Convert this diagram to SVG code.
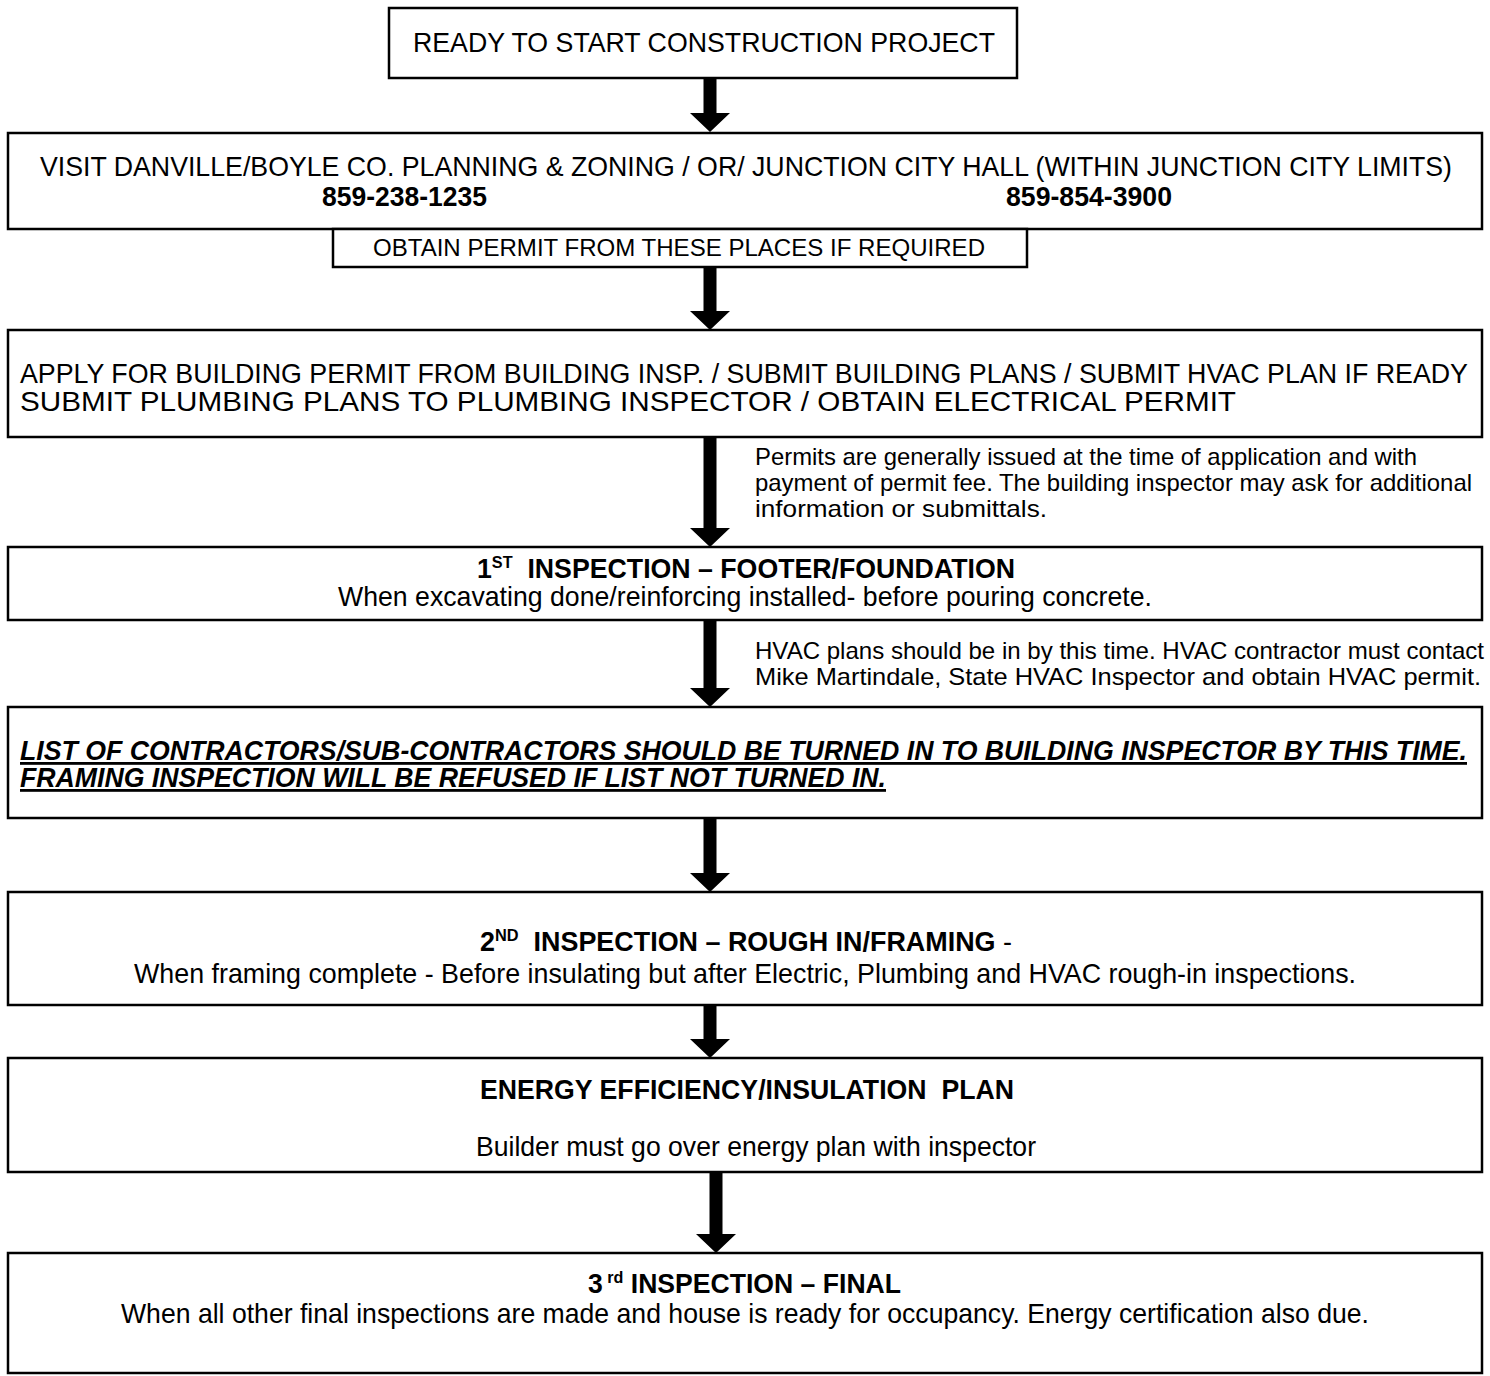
<svg xmlns="http://www.w3.org/2000/svg" width="1490" height="1376" viewBox="0 0 1490 1376">
<style>
.box{fill:#fff;stroke:#000;stroke-width:2.5}
text{font-family:"Liberation Sans Narrow","Liberation Sans",Arial,sans-serif;fill:#000;white-space:pre}
.t{font-size:28px}
.s{font-size:24px}
.b{font-weight:bold}
.c{text-anchor:middle}
.sup{font-size:17px}
.arr{fill:#000}
</style>
<rect width="1490" height="1376" fill="#fff"/>
<g id="connectors">
<path class="arr" d="M703.5,78 H716.5 V113 H730 L710,132 L690,113 H703.5 Z"/>
<path class="arr" d="M703.5,267 H716.5 V311 H730 L710,330 L690,311 H703.5 Z"/>
<path class="arr" d="M703.5,437 H716.5 V528 H730 L710,547 L690,528 H703.5 Z"/>
<path class="arr" d="M703.5,620 H716.5 V688 H730 L710,707 L690,688 H703.5 Z"/>
<path class="arr" d="M703.5,818 H716.5 V873 H730 L710,892 L690,873 H703.5 Z"/>
<path class="arr" d="M703.5,1005 H716.5 V1039 H730 L710,1058 L690,1039 H703.5 Z"/>
<path class="arr" d="M709.5,1172 H722.5 V1234 H736 L716,1253 L696,1234 H709.5 Z"/>
</g>
<g id="n1">
<rect class="box" x="389" y="8" width="628" height="70"/>
<text class="t c" x="704" y="52" textLength="582" lengthAdjust="spacingAndGlyphs">READY TO START CONSTRUCTION PROJECT</text>
</g>
<g id="n2">
<rect class="box" x="8" y="133" width="1474" height="96"/>
<text class="t c" x="746" y="176" textLength="1412" lengthAdjust="spacingAndGlyphs">VISIT DANVILLE/BOYLE CO. PLANNING &amp; ZONING / OR/ JUNCTION CITY HALL (WITHIN JUNCTION CITY LIMITS)</text>
<text class="t b c" x="404.5" y="206" textLength="165" lengthAdjust="spacingAndGlyphs">859-238-1235</text>
<text class="t b c" x="1089" y="206" textLength="166" lengthAdjust="spacingAndGlyphs">859-854-3900</text>
</g>
<g id="n3">
<rect class="box" x="333" y="229" width="694" height="38"/>
<text class="s c" x="679" y="256" textLength="612" lengthAdjust="spacingAndGlyphs">OBTAIN PERMIT FROM THESE PLACES IF REQUIRED</text>
</g>
<g id="n4">
<rect class="box" x="8" y="330" width="1474" height="107"/>
<text class="t" x="20" y="383" textLength="1448" lengthAdjust="spacingAndGlyphs">APPLY FOR BUILDING PERMIT FROM BUILDING INSP. / SUBMIT BUILDING PLANS / SUBMIT HVAC PLAN IF READY</text>
<text class="t" x="20" y="411" textLength="1216" lengthAdjust="spacingAndGlyphs">SUBMIT PLUMBING PLANS TO PLUMBING INSPECTOR / OBTAIN ELECTRICAL PERMIT</text>
</g>
<g id="note1">
<text class="s" x="755" y="465" textLength="662" lengthAdjust="spacingAndGlyphs">Permits are generally issued at the time of application and with</text>
<text class="s" x="755" y="491" textLength="717" lengthAdjust="spacingAndGlyphs">payment of permit fee. The building inspector may ask for additional</text>
<text class="s" x="755" y="517" textLength="292" lengthAdjust="spacingAndGlyphs">information or submittals.</text>
</g>
<g id="n5">
<rect class="box" x="8" y="547" width="1474" height="73"/>
<text class="t b" x="477" y="578" textLength="538" lengthAdjust="spacingAndGlyphs">1<tspan class="sup" dy="-10">ST</tspan><tspan dy="10">  INSPECTION – FOOTER/FOUNDATION</tspan></text>
<text class="t c" x="745" y="606" textLength="814" lengthAdjust="spacingAndGlyphs">When excavating done/reinforcing installed- before pouring concrete.</text>
</g>
<g id="note2">
<text class="s" x="755" y="659" textLength="729" lengthAdjust="spacingAndGlyphs">HVAC plans should be in by this time. HVAC contractor must contact</text>
<text class="s" x="755" y="685" textLength="726" lengthAdjust="spacingAndGlyphs">Mike Martindale, State HVAC Inspector and obtain HVAC permit.</text>
</g>
<g id="n6">
<rect class="box" x="8" y="707" width="1474" height="111"/>
<text class="t b" x="20" y="760" font-style="italic" text-decoration="underline" textLength="1447" lengthAdjust="spacingAndGlyphs">LIST OF CONTRACTORS/SUB-CONTRACTORS SHOULD BE TURNED IN TO BUILDING INSPECTOR BY THIS TIME.</text>
<text class="t b" x="20" y="787" font-style="italic" text-decoration="underline" textLength="866" lengthAdjust="spacingAndGlyphs">FRAMING INSPECTION WILL BE REFUSED IF LIST NOT TURNED IN.</text>
</g>
<g id="n7">
<rect class="box" x="8" y="892" width="1474" height="113"/>
<text class="t" x="480" y="951" textLength="532" lengthAdjust="spacingAndGlyphs"><tspan class="b">2</tspan><tspan class="b sup" dy="-10">ND</tspan><tspan class="b" dy="10">  INSPECTION – ROUGH IN/FRAMING</tspan> -</text>
<text class="t c" x="745" y="983" textLength="1222" lengthAdjust="spacingAndGlyphs">When framing complete - Before insulating but after Electric, Plumbing and HVAC rough-in inspections.</text>
</g>
<g id="n8">
<rect class="box" x="8" y="1058" width="1474" height="114"/>
<text class="t b c" x="747" y="1099" textLength="534" lengthAdjust="spacingAndGlyphs">ENERGY EFFICIENCY/INSULATION  PLAN</text>
<text class="t c" x="756" y="1156" textLength="560" lengthAdjust="spacingAndGlyphs">Builder must go over energy plan with inspector</text>
</g>
<g id="n9">
<rect class="box" x="8" y="1253" width="1474" height="120"/>
<text class="t b" x="588" y="1293" textLength="313" lengthAdjust="spacingAndGlyphs">3<tspan class="sup" dy="-10"> rd</tspan><tspan dy="10"> INSPECTION – FINAL</tspan></text>
<text class="t c" x="745" y="1323" textLength="1248" lengthAdjust="spacingAndGlyphs">When all other final inspections are made and house is ready for occupancy. Energy certification also due.</text>
</g>
</svg>
